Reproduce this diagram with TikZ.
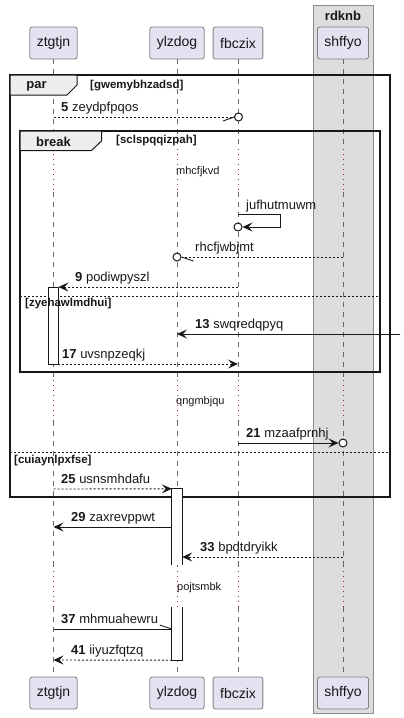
\documentclass[tikz,border=0pt]{standalone}
\usepackage{fontspec}
\setmainfont{Liberation Sans}
\usetikzlibrary{arrows.meta,calc}
\definecolor{ink}{HTML}{181818}
\definecolor{partfill}{HTML}{E2E2F0}
\definecolor{partline}{HTML}{808080}
\definecolor{boxfill}{HTML}{DDDDDD}
\definecolor{boxline}{HTML}{8C8C8C}
\definecolor{tabfill}{HTML}{EEEEEE}
\definecolor{delaydot}{HTML}{9E1F4E}
\begin{document}
\begin{tikzpicture}[x=1pt,y=-1pt,
  participant/.style={draw=partline, line width=0.8pt, fill=partfill, rounded corners=2.5pt,
    minimum height=32pt, inner xsep=7pt, inner ysep=0pt, font=\fontsize{14}{16}\selectfont, text=ink},
  lifeline/.style={draw=ink!65, line width=0.7pt, dash pattern=on 5pt off 5pt},
  delayline/.style={draw=delaydot, line width=0.9pt, dash pattern=on 1pt off 4pt},
  msg/.style={draw=ink, line width=0.9pt},
  reply/.style={msg, dash pattern=on 2pt off 2pt},
  tip/.style={-{Stealth[length=10pt,width=9pt,inset=4pt]}},
  endcircle/.style={draw=ink, line width=1pt, fill=white},
  lbl/.style={anchor=base west, inner sep=0pt, font=\fontsize{13}{15}\selectfont, text=ink},
  delaytxt/.style={anchor=west, inner sep=0pt, font=\fontsize{11}{13}\selectfont, text=ink},
  frameline/.style={draw=ink, line width=1.5pt},
  tabshape/.style={draw=ink, line width=1pt, fill=tabfill},
  tabtxt/.style={inner sep=0pt, font=\bfseries\fontsize{13}{15}\selectfont, text=ink},
  guard/.style={anchor=west, inner sep=0pt, font=\bfseries\fontsize{11.5}{13}\selectfont, text=ink},
  separator/.style={draw=ink, line width=0.9pt, dash pattern=on 2pt off 2pt},
  actbox/.style={fill=white, inner sep=0pt, minimum width=10pt},
  actedge/.style={draw=ink, line width=0.9pt}
]
\useasboundingbox (0,0) rectangle (404,718);

% grouping box around shffyo
\draw[draw=boxline, line width=0.9pt, fill=boxfill] (313,5) rectangle (373,713);
\node[tabtxt] (rdknb) at (343,16) {rdknb};

% participants, head and foot
\node[participant] (ztgtjn) at (53.5,43) {ztgtjn};
\node[participant] (ylzdog) at (177,43) {ylzdog};
\node[participant] (fbczix) at (238,43) {fbczix};
\node[participant] (shffyo) at (343,43) {shffyo};
\node[participant] (ztgtjnB) at (53.5,693) {ztgtjn};
\node[participant] (ylzdogB) at (177,693) {ylzdog};
\node[participant] (fbczixB) at (238,693) {fbczix};
\node[participant] (shffyoB) at (343,693) {shffyo};

% lifelines, dotted through the three delays
\foreach \p in {ztgtjn,ylzdog,fbczix,shffyo}{
  \draw[lifeline] (\p.south) -- (\p |- 0,149);
  \draw[delayline] (\p |- 0,149) -- (\p |- 0,192);
  \draw[lifeline] (\p |- 0,192) -- (\p |- 0,380);
  \draw[delayline] (\p |- 0,380) -- (\p |- 0,421);
  \draw[lifeline] (\p |- 0,421) -- (\p |- 0,566);
  \draw[delayline] (\p |- 0,566) -- (\p |- 0,607);
  \draw[lifeline] (\p |- 0,607) -- (\p B.north);
}

% par fragment
\draw[frameline] (10,75) rectangle (390,497);
\draw[tabshape] (10,75) -- (77,75) -- (77,85) -- (67,95) -- (10,95) -- cycle;
\node[tabtxt] (parlbl) at (36.5,86) {par};
\node[guard] (parguard) at (90,86) {[gwemybhzadsd]};
\draw[separator] (10,452) -- (390,452);
\node[guard] (parelse) at (14,461) {[cuiaynlpxfse]};

% break fragment
\draw[frameline] (20,131) rectangle (380,372);
\draw[tabshape] (20,131) -- (101.5,131) -- (101.5,141) -- (91.5,150.5) -- (20,150.5) -- cycle;
\node[tabtxt] (brklbl) at (53.5,142) {break};
\node[guard] (brkguard) at (116,141) {[sclspqqizpah]};
\draw[separator] (20,296) -- (380,296);

% activation bars
\node[actbox, draw=ink, line width=0.9pt, minimum height=77pt] (actZ) at (53,325.5) {};
\node[actbox, minimum height=76pt] (actY1) at (177,527) {};
\draw[actedge] (actY1.south west) -- (actY1.north west) -- (actY1.north east) -- (actY1.south east);
\node[actbox, minimum height=53pt] (actY2) at (177,633.5) {};
\draw[actedge] (actY2.north west) -- (actY2.south west) -- (actY2.south east) -- (actY2.north east);

\node[guard] (brkelse) at (25,304) {[zyehawlmdhui]};

% 5
\node[endcircle, circle, inner sep=0pt, minimum size=8pt] (c5) at (238.5,117) {};
\draw[reply] (ztgtjn |- 0,117) -- (c5.west);
\draw[msg] (c5.west) -- ++(-11,4);
\node[lbl] at (61,111.5) {\textbf{5} zeydpfpqos};

% delay
\node[delaytxt] (d1) at (176,172) {mhcfjkvd};

% self message on fbczix
\node[endcircle, circle, inner sep=0pt, minimum size=8pt] (cself) at (238,227) {};
\draw[msg, tip] (fbczix |- 0,214) -- (280,214) -- (280,227) -- (cself.east);
\node[lbl] at (246,209) {jufhutmuwm};

% rhcfjwbjmt
\node[endcircle, circle, inner sep=0pt, minimum size=8pt] (crh) at (177,257) {};
\draw[reply] (shffyo |- 0,257) -- (crh.east);
\draw[msg] (crh.east) -- ++(12,4);
\node[lbl] at (195,251.5) {rhcfjwbjmt};

% 9
\draw[reply, tip] (fbczix |- 0,287) -- (actZ.east |- 0,287);
\node[lbl] at (75,281.5) {\textbf{9} podiwpyszl};

% 13
\coordinate (edgeR) at (400,334);
\draw[msg, tip] (edgeR) -- (ylzdog |- 0,334);
\node[lbl] at (195,328.5) {\textbf{13} swqredqpyq};

% 17
\draw[reply, tip] (actZ.east |- 0,364) -- (fbczix |- 0,364);
\node[lbl] at (62,358.5) {\textbf{17} uvsnpzeqkj};

% delay
\node[delaytxt] (d2) at (176,402) {qngmbjqu};

% 21
\node[endcircle, circle, inner sep=0pt, minimum size=8pt] (c21) at (343,443) {};
\draw[msg, tip] (fbczix |- 0,443) -- (c21.west);
\node[lbl] at (246,437.5) {\textbf{21} mzaafprnhj};

% 25
\draw[reply, tip] (ztgtjn |- 0,489) -- (actY1.north west);
\node[lbl] at (61,483.5) {\textbf{25} usnsmhdafu};

% 29
\draw[msg, tip] (actY1.west |- 0,527) -- (ztgtjn |- 0,527);
\node[lbl] at (71,521.5) {\textbf{29} zaxrevppwt};

% 33
\draw[reply, tip] (shffyo |- 0,557) -- (actY1.east |- 0,557);
\node[lbl] at (200,551.5) {\textbf{33} bpdtdryikk};

% delay
\node[delaytxt] (d3) at (177,588) {pojtsmbk};

% 37
\draw[msg] (ztgtjn |- 0,629) -- (actY2.west |- 0,629);
\draw[msg] (actY2.west |- 0,629) -- ++(-12,-4);
\node[lbl] at (61,623.5) {\textbf{37} mhmuahewru};

% 41
\draw[reply, tip] (actY2.south west) -- (ztgtjn |- 0,660);
\node[lbl] at (71,654.5) {\textbf{41} iiyuzfqtzq};
\end{tikzpicture}
\end{document}
